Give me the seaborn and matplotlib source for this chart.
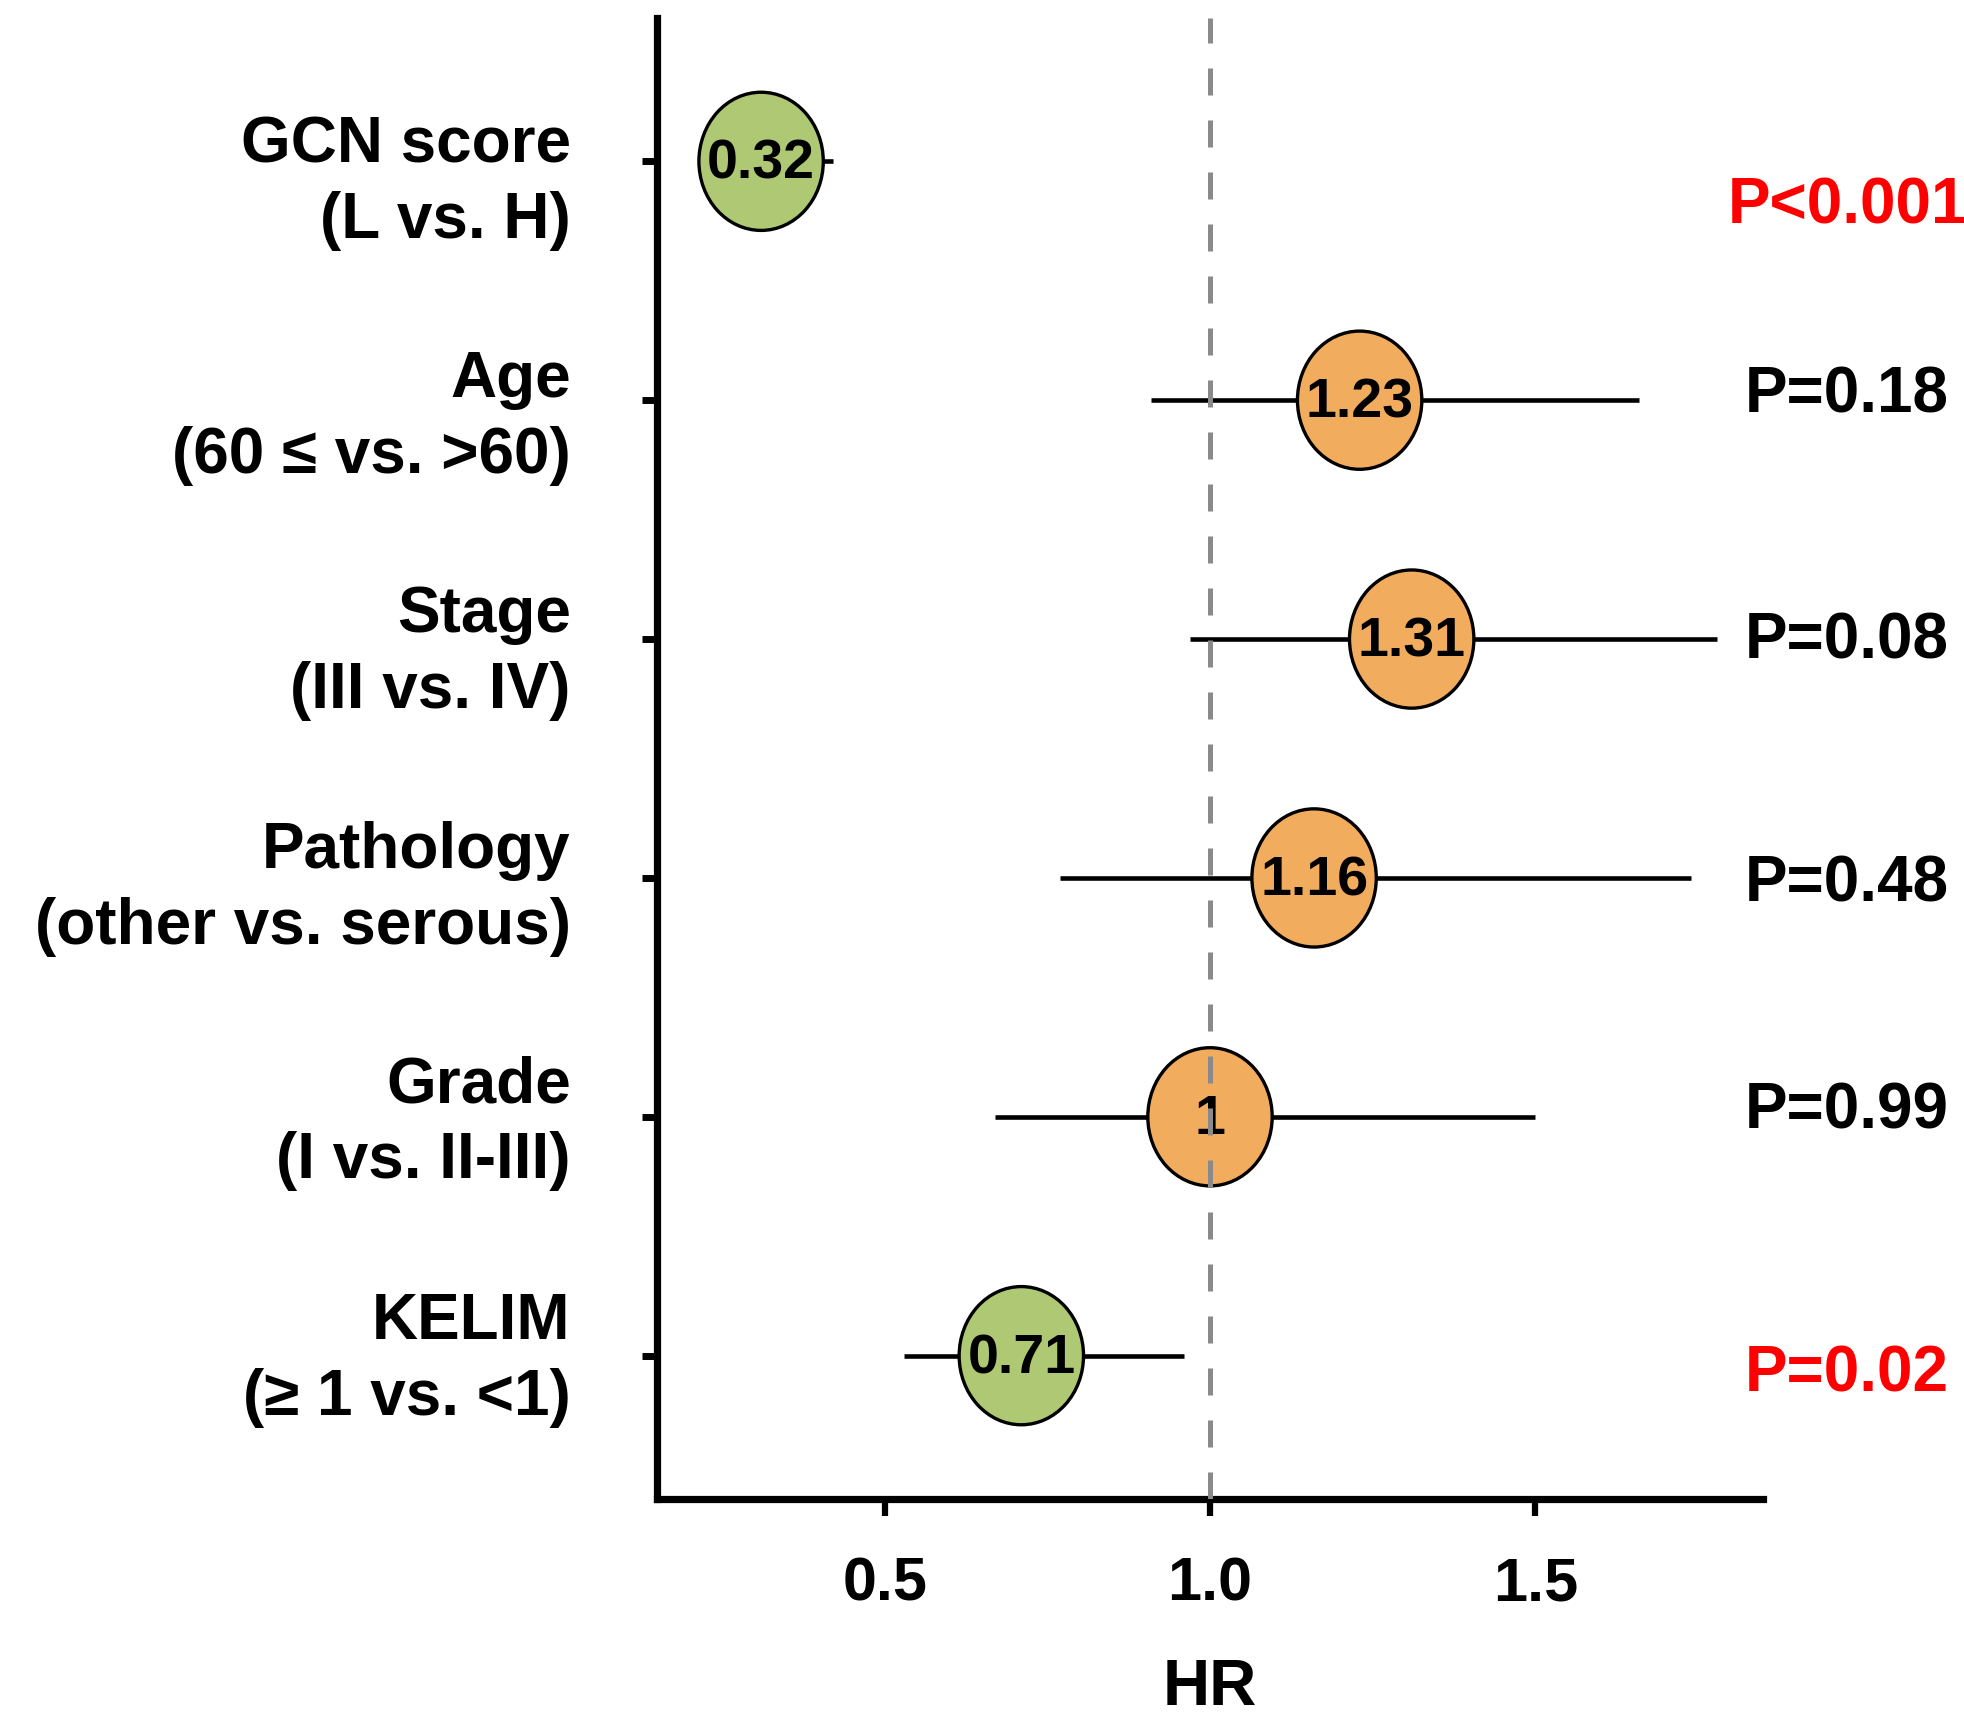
import numpy as np
import pandas as pd
import matplotlib
matplotlib.use("Agg")
import matplotlib.pyplot as plt
from matplotlib.path import Path
from matplotlib.transforms import Affine2D, blended_transform_factory
import seaborn as sns

# ---- data ----
labels = ["GCN score\n(L vs. H)", "Age\n(60 \u2264 vs. >60)", "Stage\n(III vs. IV)",
          "Pathology\n(other vs. serous)", "Grade\n(I vs. II-III)", "KELIM\n(\u2265 1 vs. <1)"]
hr = [0.31, 1.23, 1.31, 1.16, 1.00, 0.71]
hr_text = ["0.32", "1.23", "1.31", "1.16", "1", "0.71"]
ci_low = [0.24, 0.91, 0.97, 0.77, 0.67, 0.53]
ci_high = [0.42, 1.66, 1.78, 1.74, 1.50, 0.96]
p_text = ["P<0.001", "P=0.18", "P=0.08", "P=0.48", "P=0.99", "P=0.02"]
p_sig = [True, False, False, False, False, True]
xticks = [0.5, 1.0, 1.5]

df = pd.DataFrame({"label": labels, "hr": hr, "low": ci_low, "high": ci_high,
                   "row": np.arange(len(labels)),
                   "effect": ["protective" if h < 1 else "risk" for h in hr]})

# ---- style ----
sns.set_theme(style="ticks")
plt.rcParams["font.family"] = ["Liberation Sans", "DejaVu Sans"]
plt.rcParams["font.weight"] = "bold"
plt.rcParams["text.color"] = "black"
plt.rcParams["axes.labelcolor"] = "black"
plt.rcParams["xtick.color"] = "black"
plt.rcParams["ytick.color"] = "black"
plt.rcParams["xtick.labelcolor"] = "black"

fig = plt.figure(figsize=(19.65, 17.15), dpi=100)
ax = fig.add_axes([657 / 1965, 1 - 1500 / 1715, (1763 - 657) / 1965, (1500 - 19) / 1715])

# error bars
ax.hlines(df["row"], df["low"], df["high"], color="black", lw=3.3, zorder=1)

# ellipse marker
ell = Path.unit_circle().transformed(Affine2D().scale(0.90, 1.0))
sns.scatterplot(data=df, x="hr", y="row", hue="effect",
                palette={"protective": "#AFC873", "risk": "#F2AC5E"},
                marker=ell, s=99.5 ** 2, edgecolor="black", linewidth=2.4,
                legend=False, ax=ax, zorder=2)

for i, t in enumerate(hr_text):
    ax.text(hr[i], i + 0.01, t, ha="center", va="center", fontsize=40,
            fontweight="bold", color="black", zorder=3)

# reference line (drawn on top)
ax.axvline(1.0, color="#8a8a8a", lw=3.6, dashes=(5.4, 5.0), zorder=4)

ax.set_xlim(0.15, 1.85)
ax.set_ylim(5.6, -0.6)
ax.set_xticks(xticks)
ax.set_xticklabels([f"{v:.1f}" for v in xticks], fontsize=44, fontweight="bold")
ax.set_yticks(df["row"])
ax.set_yticklabels([])
ax.tick_params(axis="x", length=12, width=4.5, pad=29, color="black")
ax.tick_params(axis="y", length=11, width=5, color="black")
ax.set_xlabel("HR", fontsize=47, fontweight="bold", labelpad=32)
ax.set_ylabel("")
sns.despine(ax=ax)
for s in ["left", "bottom"]:
    ax.spines[s].set_linewidth(5.2)
    ax.spines[s].set_color("black")

# row labels
tl = blended_transform_factory(ax.transAxes, ax.transData)
lab_dy = [0.087, 0.071, 0.055, 0.042, 0.024, 0.013]
for i, lab in enumerate(labels):
    ax.text(-0.078, i + lab_dy[i], lab, transform=tl, ha="right", va="center",
            fontsize=46, fontweight="bold", linespacing=1.33, clip_on=False)

# p-values
p_dy = [0.185, -0.025, 0.005, 0.025, -0.025, 0.075]
for i, t in enumerate(p_text):
    ax.text(1.076, i + p_dy[i], t, transform=tl, ha="center", va="center",
            fontsize=46, fontweight="bold", color="#FF0000" if p_sig[i] else "black",
            clip_on=False)

fig.savefig("out.png", dpi=100)
